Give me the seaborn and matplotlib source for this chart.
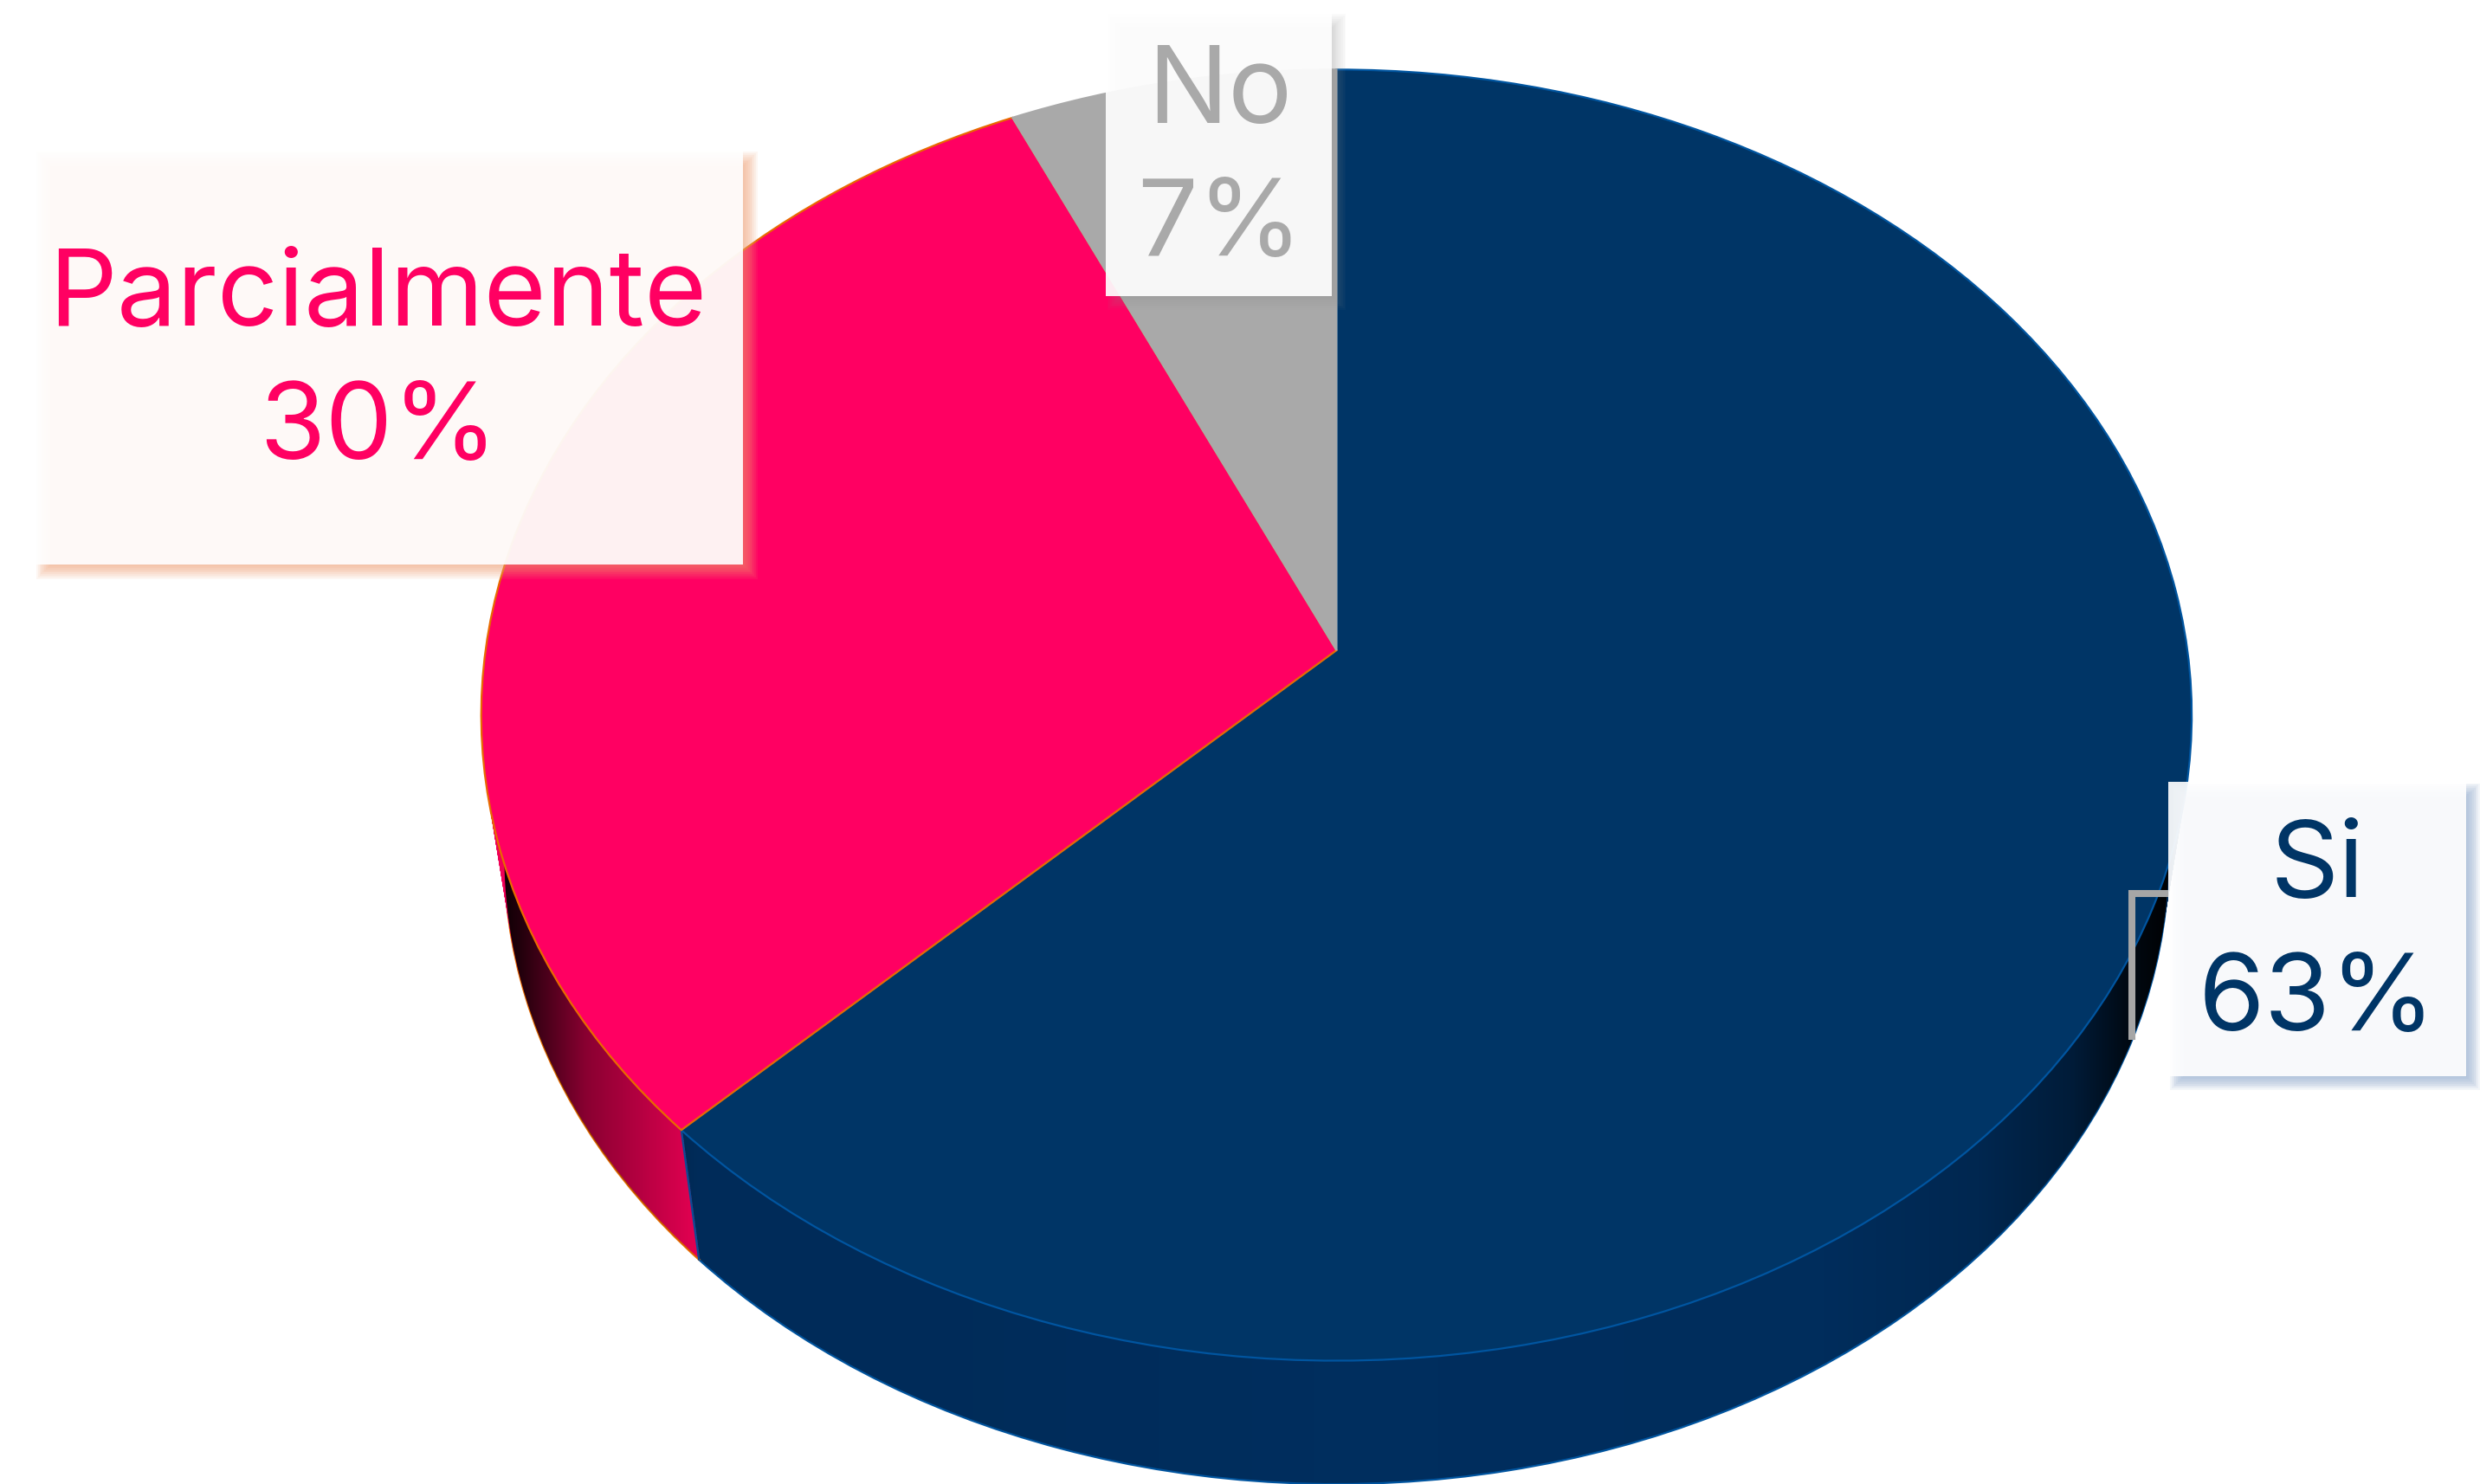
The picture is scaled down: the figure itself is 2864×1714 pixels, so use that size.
"""3D looking pie chart: perspective pie on a flat matplotlib axes."""

import numpy as np
import matplotlib
matplotlib.use("Agg")
import matplotlib.pyplot as plt
import seaborn as sns
from matplotlib.patches import Rectangle
from matplotlib.path import Path
from matplotlib.transforms import Transform

# data
labels = ["Si", "Parcialmente", "No"]
percents = [63, 30, 7]
shares = [62.7, 30.48, 6.82]

# styles
top_colors = ["#003566", "#ff0062", "#a9a9a9"]
side_colors = ["#002e5e", "#f00056", "#8a8a8a"]
edge_colors = ["#0055a0", "#e86a00", "#a9a9a9"]
text_colors = ["#003566", "#ff0062", "#a9a9a9"]
shadow_colors = ["#7f9cc6", "#f0a070", "#909090"]
shadow_alpha = [0.09, 0.09, 0.04]
# left, top, right, bottom of each label box, in picture units
boxes = [(1371, 494, 1559, 680), (22, 95, 470, 357), (699, 8, 842, 187)]
text_x = [1465, 239, 771]

sns.set_theme(style="white")
plt.rcParams["font.family"] = ["Inter", "DejaVu Sans"]

# pie geometry
CX, APEX_Y, ELL_Y = 845, 411, 452
A, P, GAMMA = 538, -362.6, 0.1005
DEPTH, SHRINK = 89, 0.027


class PiePerspective(Transform):
    """Maps the unit circle of the pie to the tilted disc, drop=1 is the bottom face."""
    input_dims = output_dims = 2

    def __init__(self, drop=0.0):
        super().__init__()
        self.drop = drop

    def transform_non_affine(self, values):
        x, y = np.asarray(values).T
        w = 1 + GAMMA * y
        sx = CX + A * x / w
        sy = (P * y + APEX_Y) / w
        s = 1 - SHRINK * self.drop
        sx = CX + (sx - CX) * s
        sy = ELL_Y + DEPTH * self.drop + (sy - ELL_Y) * s
        return np.column_stack([sx, sy])


def draw_pie(ax, drop, colors, edges, lw, zorder):
    wedges, _ = ax.pie(shares, colors=colors, startangle=90, counterclock=False,
                       labeldistance=None)
    for w, e in zip(wedges, edges):
        w.set_transform(PiePerspective(drop) + ax.transData)
        w.set_edgecolor(e)
        w.set_linewidth(lw)
        w.set_zorder(zorder)
    return wedges


fig = plt.figure(figsize=(14.32, 8.57), dpi=200)
ax = fig.add_axes([0, 0, 1, 1])

# side wall: stack of darker pies, bottom one first
draw_pie(ax, 1.0, side_colors, edge_colors, 0.8, 1)
for drop in np.linspace(1, 0, 70)[1:]:
    draw_pie(ax, drop, side_colors, side_colors, 0, 1)

# shading of the side wall, darker towards both ends
xs = np.arange(300, 1390)
shade_x = [312, 330, 370, 441, 600, 850, 1150, 1250, 1310, 1345, 1375]
shade_a = [1.0, 0.85, 0.43, 0.05, 0.05, 0, 0.02, 0.15, 0.4, 0.8, 1.0]
shade = np.zeros((1, len(xs), 4))
shade[..., 3] = np.interp(xs, shade_x, shade_a)
theta = np.linspace(0, 2 * np.pi, 721)
ring = np.column_stack([np.cos(theta), np.sin(theta)])
# ring runs right->top->left->bottom->right, keep that order around the hull
is_low = ring[:, 1] < -0.1
n_first = np.argmax(is_low)
top_a = PiePerspective(0).transform(ring[:n_first])
low_a = PiePerspective(1).transform(ring[is_low])
top_b = PiePerspective(0).transform(ring[n_first + len(low_a):])
hull = Path(np.vstack([top_a, low_a, top_b]))
im = ax.imshow(shade, extent=(300, 1390, 945, 400), aspect="auto", zorder=2,
               interpolation="bilinear")
im.set_clip_path(hull, ax.transData)

# seam of the wall between Si and Parcialmente
seam = np.deg2rad(90 - shares[0] / sum(shares) * 360)
seam_pt = [[np.cos(seam), np.sin(seam)]]
seam_xy = np.vstack([PiePerspective(0).transform(seam_pt), PiePerspective(1).transform(seam_pt)])
ax.plot(seam_xy[:, 0], seam_xy[:, 1], color="#0a4c96", lw=0.8, zorder=2.5)

# top face
draw_pie(ax, 0.0, top_colors, edge_colors, 0.8, 3)

# leader line of the Si label
ax.plot([1371, 1348, 1348], [564.5, 564.5, 657], color="#a6a6a6", lw=2.9,
        solid_joinstyle="miter", solid_capstyle="butt", zorder=4)

# label boxes with a soft shadow
for name, pct, box, tx, tc, sc, sa in zip(labels, percents, boxes, text_x, text_colors,
                                          shadow_colors, shadow_alpha):
    x0, y0, x1, y1 = box
    for grow in range(-5, 5):
        ax.add_patch(Rectangle((x0 + 5 - grow, y0 + 5 - grow),
                               x1 - x0 + 2 * grow, y1 - y0 + 2 * grow,
                               fc=sc, ec="none", alpha=sa, zorder=5))
    ax.add_patch(Rectangle((x0, y0), x1 - x0, y1 - y0, fc="white", ec="none",
                           alpha=0.92, zorder=6))
    mid = (y0 + y1) / 2
    ax.text(tx, mid - 20, name, color=tc, fontsize=44.5,
            ha="center", va="baseline", zorder=7)
    ax.text(tx, mid + 64, f"{pct}%", color=tc, fontsize=44.5,
            ha="center", va="baseline", zorder=7)

ax.set_xlim(0, 1568)
ax.set_ylim(938, 0)
ax.set_aspect("auto")
ax.axis("off")

fig.savefig("out.png", dpi=200)
plt.close(fig)
